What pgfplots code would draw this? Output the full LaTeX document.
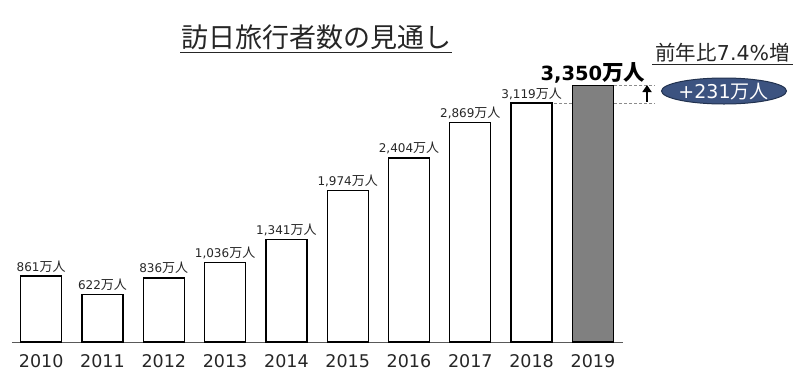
\documentclass[border=0pt]{standalone}
\usepackage{pgfplots}
\pgfplotsset{compat=1.18}
\usetikzlibrary{arrows.meta}
\usepackage{fontspec}
\setmainfont{DejaVu Sans}
\newfontfamily\cjk{Noto Sans CJK JP}
\definecolor{barfill}{HTML}{808080}
\definecolor{navy}{HTML}{3C5380}
\definecolor{navyedge}{HTML}{22324F}
\definecolor{axisgray}{HTML}{595959}
\definecolor{dashgray}{HTML}{8C8C8C}
\definecolor{txt}{HTML}{262626}
\begin{document}
\begin{tikzpicture}
\begin{axis}[
  at={(12pt,-342pt)}, anchor=south west,
  scale only axis, width=611pt, height=342pt,
  xmin=-0.476, xmax=9.491, ymin=0, ymax=4465,
  axis x line=bottom, axis y line=none,
  axis line style={-, draw=axisgray, line width=1pt},
  xtick={0,...,9},
  xticklabels={2010,2011,2012,2013,2014,2015,2016,2017,2018,2019},
  major tick length=0pt,
  ytick=\empty,
  x tick label style={font=\fontsize{17.5}{20}\selectfont, anchor=base, yshift=-25pt, text=txt},
  clip=false,
  /pgf/number format/.cd, 1000 sep={,}, fixed, precision=0, assume math mode=true,
]
\addplot[ybar, bar width=41pt, bar shift=0pt, fill=white, draw=black, line width=1.3pt,
  nodes near coords={\pgfmathprintnumber{\pgfplotspointmeta}{\cjk\fontsize{13}{14}\selectfont 万人}},
  every node near coord/.style={font=\fontsize{12}{13}\selectfont, anchor=base, yshift=5pt, text=txt, inner sep=0pt}]
  coordinates {(0,861) (1,622) (2,836) (3,1036) (4,1341) (5,1974) (6,2404) (7,2869) (8,3119)};
\addplot[ybar, bar width=41pt, bar shift=0pt, fill=barfill, draw=black, line width=1.3pt,
  nodes near coords={\pgfmathprintnumber{\pgfplotspointmeta}{\cjk\fontsize{21.5}{24}\selectfont 万人}},
  every node near coord/.style={font=\bfseries\fontsize{19.5}{22}\selectfont, anchor=base, yshift=5pt, text=black, inner sep=0pt}]
  coordinates {(9,3350)};
\end{axis}
\begin{scope}[x=1pt, y=-1pt]
  \path (0,0) rectangle (800,386);
  % title
  \node[anchor=base, inner sep=0pt, text=txt, font=\cjk\fontsize{27}{30}\selectfont] at (316,47.5) {訪日旅行者数の見通し};
  \draw[txt, line width=1.3pt] (180,52.5) -- (452,52.5);
  % dashed guides
  \draw[dashgray, line width=0.9pt, dash pattern=on 3pt off 2pt] (614,85) -- (655,85);
  \draw[dashgray, line width=0.9pt, dash pattern=on 3pt off 2pt] (554,103) -- (572,103);
  \draw[dashgray, line width=0.9pt, dash pattern=on 3pt off 2pt] (614,103) -- (655,103);
  % arrow
  \draw[black, line width=2pt, -{Triangle[width=9pt,length=7pt]}] (647,102) -- (647,85);
  % annotation
  \node[anchor=base, inner sep=0pt, text=txt, font=\fontsize{20.5}{24}\selectfont] at (722.5,60) {{\cjk 前年比}7.4\%{\cjk 増}};
  \draw[txt, line width=1.1pt] (652,64.5) -- (793,64.5);
  \draw[fill=navy, draw=navyedge, line width=1pt] (724,91) ellipse [x radius=62.5, y radius=13];
  \node[anchor=base, inner sep=0pt, text=white, font=\fontsize{19}{22}\selectfont] at (723.5,98) {+231{\cjk 万人}};
\end{scope}
\end{tikzpicture}
\end{document}
